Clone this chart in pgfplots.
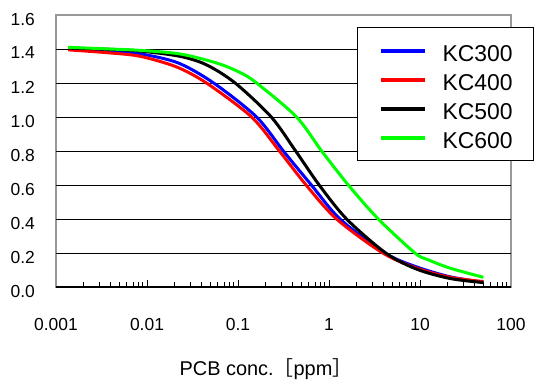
\documentclass[border=0pt]{standalone}
\usepackage{fontspec}
\setmainfont{Liberation Sans}
\newfontfamily\cjk{Noto Sans CJK JP}
\usepackage{pgfplots}
\pgfplotsset{compat=1.18}
\begin{document}
\begin{tikzpicture}[x=1bp,y=1bp]
\begin{axis}[
  at={(0,0)}, anchor=south west,
  scale only axis, width=455bp, height=272bp,
  xmode=log, xmin=0.001, xmax=100, ymin=0, ymax=1.6,
  xtick={0.001,0.01,0.1,1,10,100},
  xticklabels={0.001,0.01,0.1,1,10,100},
  ytick={0,0.2,0.4,0.6,0.8,1.0,1.2,1.4,1.6},
  yticklabels={0.0,0.2,0.4,0.6,0.8,1.0,1.2,1.4,1.6},
  extra y ticks={0.2,0.4,0.6,0.8,1.0,1.2,1.4},
  extra y tick labels={},
  extra y tick style={grid=major, major tick length=0pt},
  grid style={black, line width=0.9bp},
  xtick pos=left, ytick pos=left,
  tick align=inside,
  major tick length=7.5bp, minor tick length=5.5bp,
  x tick style={black, line width=0.8bp},
  y tick style={draw=none},
  axis line style={gray!80, line width=1.2bp},
  xticklabel style={font=\fontsize{17.5}{17.5}\selectfont, anchor=base, inner sep=0pt, yshift=-43bp},
  yticklabel style={font=\fontsize{17.5}{17.5}\selectfont, anchor=east, inner sep=0pt, xshift=-21bp, yshift=-4bp},
  xlabel={PCB conc.{\cjk ［}ppm{\cjk ］}},
  xlabel style={font=\fontsize{20}{20}\selectfont, at={(axis description cs:0.4615,0)}, anchor=base, inner sep=0pt, yshift=-88bp},
  legend style={at={(axis description cs:0.6615,0.9559)}, anchor=north west,
    draw=black, line width=1.2bp, fill=white,
    font=\fontsize{23}{23}\selectfont,
    inner xsep=21bp, inner ysep=12bp, row sep=7bp, column sep=16bp,
    nodes={inner sep=0pt, text height=22bp, text depth=0bp}},
  legend cell align=left,
  legend image code/.code={\draw[#1, line width=4bp] (0bp,0bp) -- (44bp,0bp);},
]
\addplot[blue, line width=3bp, smooth] coordinates {
(0.00136,1.400) (0.0039,1.388) (0.0084,1.372) (0.022,1.318) (0.054,1.200)
(0.160,1.000) (0.315,0.800) (0.64,0.600) (1.32,0.400)
(4.1,0.200) (9.2,0.118) (21.4,0.060) (49.7,0.028)};
\addlegendentry{KC300}
\addplot[red, line width=3bp, smooth] coordinates {
(0.00136,1.395) (0.0039,1.377) (0.0084,1.357) (0.021,1.295) (0.045,1.200)
(0.141,1.000) (0.285,0.800) (0.56,0.600) (1.21,0.400)
(3.9,0.200) (9.2,0.111) (21.4,0.057) (49.7,0.032)};
\addlegendentry{KC400}
\addplot[black, line width=3bp, smooth] coordinates {
(0.00136,1.405) (0.0039,1.398) (0.0084,1.388) (0.023,1.357) (0.045,1.307)
(0.093,1.200) (0.232,1.000) (0.43,0.800) (0.78,0.600) (1.56,0.400)
(4.2,0.200) (9.2,0.105) (21.4,0.050) (49.7,0.026)};
\addlegendentry{KC500}
\addplot[green, line width=3bp, smooth] coordinates {
(0.00136,1.410) (0.0039,1.400) (0.0084,1.392) (0.023,1.371) (0.058,1.318)
(0.105,1.262) (0.16,1.200) (0.44,1.000) (0.83,0.800) (1.63,0.600) (3.48,0.400)
(8.8,0.200) (12.3,0.160) (21.4,0.111) (49.7,0.057)};
\addlegendentry{KC600}
\draw[black, line width=1.6bp] (rel axis cs:0,0) -- (rel axis cs:1,0);
\end{axis}
\pgfresetboundingbox
\path[use as bounding box] (-56,-92) rectangle (479,287);
\end{tikzpicture}
\end{document}
